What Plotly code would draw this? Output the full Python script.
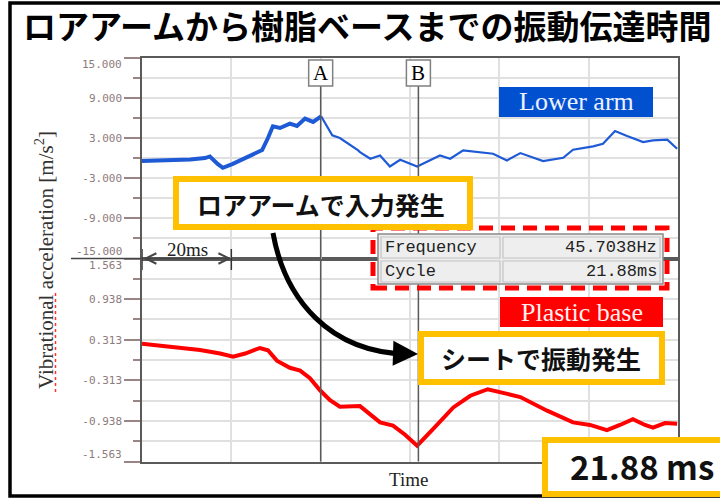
import plotly.graph_objects as go

# ---------------- data ----------------
TITLE = "ロアアームから樹脂ベースまでの振動伝達時間"

# Lower arm (top panel), time [ms] / acceleration [m/s^2]
LOWER_ARM_T = [0.0, 6.3, 10.8, 14.1, 15.2, 17.0, 18.1, 20.2, 23.1, 25.3, 26.9, 28.2, 29.3,
               30.9, 33.1, 34.7, 36.5, 38.3, 40.1, 42.6, 44.3, 46.6, 48.4, 48.8, 51.1,
               53.3, 55.5, 57.8, 61.6, 66.7, 69.0, 71.9, 78.6, 81.7, 84.7, 89.8, 94.3,
               96.5, 101.0, 103.2, 105.9, 108.6, 112.2, 114.4, 117.6, 119.8]
LOWER_ARM_V = [-0.45, -0.35, -0.2, 0.0, 0.25, -0.9, -1.45, -0.9, 0.0, 0.7, 1.2, 3.0, 4.75,
               4.5, 5.15, 4.8, 5.9, 5.4, 6.25, 3.4, 3.0, 2.0, 1.15, 0.9, -0.1,
               0.4, -1.25, -0.25, -1.25, 0.4, -0.1, 1.15, 0.65, -0.35, 0.75, -0.45, 0.05,
               1.25, 1.75, 2.15, 4.05, 3.3, 2.4, 2.65, 2.75, 1.4]

# Plastic base (bottom panel)
PLASTIC_T = [0.0, 6.3, 13.0, 17.5, 20.4, 23.1, 26.4, 28.2, 30.2, 33.1, 35.4, 37.6, 39.9,
             42.1, 44.3, 48.8, 53.3, 56.2, 58.9, 61.6, 63.4, 65.2, 69.7, 73.5, 77.4,
             80.2, 84.7, 90.7, 96.5, 100.3, 104.1, 107.0, 109.9, 112.6, 114.4, 117.1, 119.8]
PLASTIC_V = [0.25, 0.2, 0.155, 0.1, 0.05, 0.1, 0.185, 0.15, -0.01, -0.12, -0.164, -0.28, -0.47,
             -0.62, -0.72, -0.71, -0.96, -1.01, -1.15, -1.32, -1.2, -1.06, -0.73, -0.55, -0.45,
             -0.5, -0.57, -0.78, -0.96, -1.0, -1.08, -1.0, -0.91, -1.0, -1.04, -0.97, -0.98]

TOP_TICKS = [-15, -9, -3, 3, 9, 15]
TOP_TICK_TEXT = ["-15.000", "-9.000", "-3.000", "3.000", "9.000", "15.000"]
BOT_TICKS = [-1.5625, -0.9375, -0.3125, 0.3125, 0.9375, 1.5625]
BOT_TICK_TEXT = ["-1.563", "-0.938", "-0.313", "0.313", "0.938", "1.563"]

CURSOR_A = 40.0
CURSOR_B = 61.88
SCALE_MS = 20
X_RANGE = [0, 120]

FREQ_ROWS = [("Frequency", "45.7038Hz"), ("Cycle", "21.88ms")]
RESULT_TEXT = "21.88 ms"
LABEL_INPUT = "ロアアームで入力発生"
LABEL_SHEET = "シートで振動発生"
Y_TITLE = "Vibrational acceleration [m/s<sup>2</sup>]"

# ---------------- styling helpers ----------------
W, H = 720, 499


def X(p):
    return p / W


def Y(p):
    return 1 - p / H


BLUE = "#1f5ad6"
RED = "#ff0000"
ORANGE = "#FFC000"
GRID = "#e0e0e0"
AXC = "#5a5a5a"
TICKC = "#9a8484"
TICKFONT = dict(family="DejaVu Sans Mono", size=11, color="#8e7b7b")
SERIF = "Liberation Serif"
CJK = "Noto Sans CJK JP"

split = max(i for i, t in enumerate(LOWER_ARM_T) if t <= CURSOR_A + 0.5) + 1

fig = go.Figure()
fig.add_trace(go.Scatter(x=LOWER_ARM_T[:split], y=LOWER_ARM_V[:split], xaxis="x2", yaxis="y2",
                         mode="lines", line=dict(color=BLUE, width=4), hoverinfo="skip"))
fig.add_trace(go.Scatter(x=LOWER_ARM_T[split - 1:], y=LOWER_ARM_V[split - 1:], xaxis="x2", yaxis="y2",
                         mode="lines", line=dict(color=BLUE, width=2.2), hoverinfo="skip"))
fig.add_trace(go.Scatter(x=PLASTIC_T, y=PLASTIC_V, xaxis="x", yaxis="y",
                         mode="lines", line=dict(color=RED, width=4), hoverinfo="skip"))


def xax(anchor):
    return dict(domain=[X(142), X(678)], range=X_RANGE, anchor=anchor, showgrid=True,
                gridcolor=GRID, gridwidth=1.5, tick0=0, dtick=SCALE_MS, showticklabels=False,
                ticks="", showline=True, linecolor=AXC, linewidth=1.5, mirror=True, zeroline=False)


def yax(dom, rng, vals, texts, anchor, minor_dt):
    inner = [""] + texts[1:-1] + [""]
    return dict(domain=dom, range=rng, anchor=anchor, tickmode="array", tickvals=vals,
                ticktext=inner, ticks="outside", ticklen=16, tickcolor=TICKC, tickwidth=1.5,
                tickfont=TICKFONT, showgrid=True, gridcolor=GRID, gridwidth=1.5,
                minor=dict(tick0=0, dtick=minor_dt, ticks="outside", ticklen=7, tickcolor=TICKC,
                           tickwidth=1.5, showgrid=True, gridcolor=GRID, gridwidth=1.5),
                showline=True, linecolor=AXC, linewidth=1.5, mirror=True, zeroline=False)


shapes = []
annotations = []


def text(t, x, y, font, xanchor="center", yanchor="middle", **kw):
    d = dict(text=t, x=x, y=y, xref=kw.pop("xref", "paper"), yref=kw.pop("yref", "paper"),
             xanchor=xanchor, yanchor=yanchor, showarrow=False, font=font)
    d.update(kw)
    annotations.append(d)


# outer frame
shapes.append(dict(type="rect", xref="paper", yref="paper", x0=X(10), x1=X(740), y0=Y(496), y1=Y(3),
                   line=dict(color="black", width=3.5), layer="above"))

# divider extension into label area
shapes.append(dict(type="line", xref="paper", yref="paper", x0=X(71), x1=X(142), y0=Y(258.5), y1=Y(258.5),
                   line=dict(color="#444", width=1.5)))

# cursors A / B
for name, c in (("A", CURSOR_A), ("B", CURSOR_B)):
    shapes.append(dict(type="line", xref="x", yref="paper", x0=c, x1=c, y0=Y(461.5), y1=Y(86),
                       line=dict(color=AXC, width=1.5), layer="above"))
    shapes.append(dict(type="rect", xref="x", xsizemode="pixel", xanchor=c, x0=-12, x1=12,
                       yref="paper", y0=Y(86), y1=Y(60), fillcolor="white",
                       line=dict(color="#808080", width=1.5), layer="above"))
    text(name, c, Y(73.5), dict(family=SERIF, size=21, color="black"), xref="x")

# 20ms scale bars
for t in (0, SCALE_MS):
    shapes.append(dict(type="line", xref="x", yref="paper", x0=t, x1=t, y0=Y(270), y1=Y(249),
                       line=dict(color="#333", width=1.5)))
annotations.append(dict(text="", xref="x", x=SCALE_MS, yref="y", y=BOT_TICKS[-1],
                        axref="x", ax=0, ayref="y", ay=BOT_TICKS[-1], showarrow=True,
                        arrowside="end+start", arrowhead=5, arrowsize=1.6, arrowwidth=1.3,
                        arrowcolor="#444"))
text(f"{SCALE_MS}ms", X(187), Y(250), dict(family=SERIF, size=19, color="#222"))

# legend-like labels
shapes.append(dict(type="rect", xref="paper", yref="paper", x0=X(499), x1=X(653), y0=Y(117), y1=Y(87),
                   fillcolor="#0050d0", line=dict(width=0), layer="above"))
text("Lower arm", X(576), Y(102), dict(family=SERIF, size=26, color="#eef2ff"))
shapes.append(dict(type="rect", xref="paper", yref="paper", x0=X(500), x1=X(663), y0=Y(327), y1=Y(297),
                   fillcolor="#ff0000", line=dict(width=0), layer="above"))
text("Plastic base", X(581.5), Y(312), dict(family=SERIF, size=26, color="#fff0f0"))

# frequency table with red dashed frame
shapes.append(dict(type="rect", xref="paper", yref="paper", x0=X(378), x1=X(663), y0=Y(284), y1=Y(234),
                   fillcolor="#ececec", line=dict(color="#8a8a8a", width=1.5), layer="above"))
row_tops = [237, 261]
MONO = dict(family="Liberation Mono", size=17, color="#222")
for i, (lab, val) in enumerate(FREQ_ROWS):
    t0 = row_tops[i]
    shapes.append(dict(type="rect", xref="paper", yref="paper", x0=X(381), x1=X(500), y0=Y(t0 + 21), y1=Y(t0),
                       fillcolor="#eeeeee", line=dict(color="#c4c4c4", width=1.2), layer="above"))
    shapes.append(dict(type="rect", xref="paper", yref="paper", x0=X(503), x1=X(660), y0=Y(t0 + 21), y1=Y(t0),
                       fillcolor="#eeeeee", line=dict(color="#c4c4c4", width=1.2), layer="above"))
    text(lab, X(383), Y(t0 + 10.5), MONO, xanchor="left")
    text(val, X(659), Y(t0 + 10.5), MONO, xanchor="right")
shapes.append(dict(type="rect", xref="paper", yref="paper", x0=X(373), x1=X(667), y0=Y(288), y1=Y(228),
                   line=dict(color="#ff0000", width=5, dash="14px,8px"), layer="above"))

# orange call-out boxes
for (x0, x1, y0, y1) in ((176, 470, 179, 227), (421, 662, 334, 382), (545, 740, 440, 494)):
    shapes.append(dict(type="rect", xref="paper", yref="paper", x0=X(x0), x1=X(x1), y0=Y(y1), y1=Y(y0),
                       fillcolor="white", line=dict(color=ORANGE, width=6), layer="above"))
text(f"<b>{LABEL_INPUT}</b>", X(321), Y(204), dict(family=CJK, size=25, color="#111"))
text(f"<b>{LABEL_SHEET}</b>", X(541), Y(358), dict(family=CJK, size=25, color="#111"))
text(f"<b>{RESULT_TEXT}</b>", X(642), Y(466), dict(family=CJK, size=33, color="#111"))

# curved arrow
path = "M {},{} C {},{} {},{} {},{}".format(X(273), Y(233), X(285), Y(300), X(330), Y(352), X(406), Y(354))
shapes.append(dict(type="path", xref="paper", yref="paper", path=path,
                   line=dict(color="black", width=5), layer="above"))
annotations.append(dict(text="", xref="paper", x=X(418), yref="paper", y=Y(354), ax=-16, ay=-0.5,
                        showarrow=True, arrowhead=2, arrowsize=1, arrowwidth=5, arrowcolor="black"))

# end tick labels (shifted inward like the original)
for ref, vals, texts in (("y2", TOP_TICKS, TOP_TICK_TEXT), ("y", BOT_TICKS, BOT_TICK_TEXT)):
    for v, t, sh in ((vals[0], texts[0], 7), (vals[-1], texts[-1], -7)):
        text(t, X(124), v, TICKFONT, xanchor="right", yref=ref, yshift=sh)

# axis titles
text(Y_TITLE, X(44), Y(260), dict(family=SERIF, size=21, color="#333"), textangle=-90)
shapes.append(dict(type="line", xref="paper", yref="paper", x0=X(55.5), x1=X(55.5), y0=Y(392), y1=Y(293),
                   line=dict(color="#ff3030", width=1.5, dash="dot")))
text("Time", X(408), Y(479), dict(family=SERIF, size=19, color="#222"))

# title
text(f"<b>{TITLE}</b>", X(367), Y(25), dict(family=CJK, size=33, color="black"))

fig.update_layout(
    width=W, height=H, margin=dict(l=0, r=0, t=0, b=0),
    paper_bgcolor="white", plot_bgcolor="white", showlegend=False,
    xaxis=xax("y"), xaxis2=dict(xax("y2"), matches="x"),
    yaxis=yax([Y(461.5), Y(258.5)], [BOT_TICKS[0], BOT_TICKS[-1]], BOT_TICKS, BOT_TICK_TEXT, "x", 0.3125),
    yaxis2=yax([Y(258.5), Y(57.7)], [TOP_TICKS[0], TOP_TICKS[-1]], TOP_TICKS, TOP_TICK_TEXT, "x2", 3),
    shapes=shapes, annotations=annotations,
)

fig.write_html("out.html")
